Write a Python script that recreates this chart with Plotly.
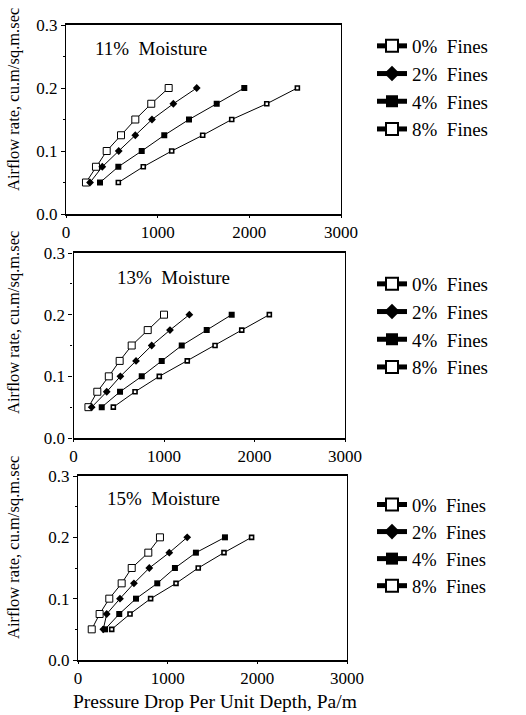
import plotly.graph_objects as go

# ---------------- data ----------------
airflow = [0.05, 0.075, 0.1, 0.125, 0.15, 0.175, 0.2]
fines_labels = ["0%\u00a0\u00a0Fines", "2%\u00a0\u00a0Fines", "4%\u00a0\u00a0Fines", "8%\u00a0\u00a0Fines"]
moisture_titles = ["11%\u00a0\u00a0Moisture", "13%\u00a0\u00a0Moisture", "15%\u00a0\u00a0Moisture"]

# pressure drop (Pa/m) for each fines level, per moisture panel
m11_f0 = [218, 327, 444, 600, 756, 930, 1120]
m11_f2 = [262, 396, 575, 756, 938, 1171, 1426]
m11_f4 = [371, 571, 826, 1072, 1342, 1644, 1945]
m11_f8 = [571, 843, 1153, 1491, 1808, 2190, 2524]

m13_f0 = [165, 263, 390, 510, 643, 820, 1000]
m13_f2 = [201, 367, 518, 691, 864, 1066, 1280]
m13_f4 = [312, 514, 754, 975, 1196, 1472, 1748]
m13_f8 = [440, 680, 948, 1257, 1564, 1859, 2164]

m15_f0 = [153, 241, 349, 487, 599, 784, 914]
m15_f2 = [282, 320, 468, 624, 795, 1018, 1218]
m15_f4 = [301, 460, 647, 884, 1081, 1315, 1639]
m15_f8 = [376, 580, 810, 1093, 1341, 1628, 1936]

x_ticks = [0, 1000, 2000, 3000]
x_ticklabels = ["0", "1000", "2000", "3000"]
y_ticks = [0.0, 0.1, 0.2, 0.3]
y_ticklabels = ["0.0", "0.1", "0.2", "0.3"]

panels = [
    [m11_f0, m11_f2, m11_f4, m11_f8],
    [m13_f0, m13_f2, m13_f4, m13_f8],
    [m15_f0, m15_f2, m15_f4, m15_f8],
]

# ---------------- style ----------------
W, H = 526, 715
SERIF = "Liberation Serif, Times New Roman, serif"

marker_styles = [
    dict(symbol="square", size=7, color="white", line=dict(color="black", width=1)),
    dict(symbol="diamond", size=6, color="black", line=dict(color="black", width=0)),
    dict(symbol="square", size=6, color="black", line=dict(color="black", width=0)),
    dict(symbol="square", size=4, color="white", line=dict(color="black", width=1.6)),
]

# pixel boxes for each panel: (left, right, top, bottom)
boxes = [(66, 341, 25, 214), (73.5, 345, 253, 438), (78, 347, 476, 660)]
legend_tops = [27, 265, 486]
legend_fonts = [19, 19, 18.5]
title_pos = [(93, 48), (115, 277), (105, 498)]
ytitle_centers = [100, 323, 548]

fig = go.Figure()
legend_names = ["legend", "legend2", "legend3"]

for p, series in enumerate(panels):
    ax = "" if p == 0 else str(p + 1)
    for s, xs in enumerate(series):
        fig.add_trace(go.Scatter(
            x=xs, y=airflow, mode="lines+markers",
            name=fines_labels[s],
            line=dict(color="black", width=1),
            marker=marker_styles[s],
            xaxis="x" + ax, yaxis="y" + ax,
            legend=legend_names[p],
            legendgroup=f"p{p}s{s}",
        ))

layout = dict(
    width=W, height=H,
    margin=dict(l=0, r=0, t=0, b=0, autoexpand=False),
    paper_bgcolor="white", plot_bgcolor="white",
    font=dict(family=SERIF, color="black", size=17),
    annotations=[],
)

for p, (l, r, t, b) in enumerate(boxes):
    ax = "" if p == 0 else str(p + 1)
    layout["xaxis" + ax] = dict(
        domain=[l / W, r / W], anchor="y" + ax, range=[0, 3000],
        tickvals=x_ticks, ticktext=x_ticklabels,
        showgrid=False, zeroline=False,
        showline=True, linecolor="black", linewidth=1.5, mirror=True,
        ticks="outside", ticklen=2, tickcolor="black",
        tickfont=dict(family=SERIF, size=17),
    )
    layout["yaxis" + ax] = dict(
        domain=[1 - b / H, 1 - t / H], anchor="x" + ax, range=[0, 0.3],
        tickvals=y_ticks, ticktext=y_ticklabels,
        showgrid=False, zeroline=False,
        showline=True, linecolor="black", linewidth=1.2, mirror=True,
        ticks="outside", ticklen=4, tickcolor="black",
        minor=dict(dtick=0.05, ticks="outside", ticklen=2, tickcolor="black"),
        tickfont=dict(family=SERIF, size=17),
    )
    lname = legend_names[p]
    layout[lname] = dict(
        x=372 / W, xanchor="left", y=1 - legend_tops[p] / H, yanchor="top",
        bgcolor="rgba(0,0,0,0)", borderwidth=0,
        font=dict(family=SERIF, size=legend_fonts[p], color="black"),
        itemsizing="constant", traceorder="grouped", tracegroupgap=0,
    )
    tx, ty = title_pos[p]
    layout["annotations"].append(dict(
        text=moisture_titles[p], x=tx / W, y=1 - ty / H, xref="paper", yref="paper",
        xanchor="left", yanchor="middle", showarrow=False,
        font=dict(family=SERIF, size=19, color="black"),
    ))
    layout["annotations"].append(dict(
        text="Airflow rate, cu.m/sq.m.sec", x=13 / W, y=1 - ytitle_centers[p] / H,
        xref="paper", yref="paper", xanchor="center", yanchor="middle",
        textangle=-90, showarrow=False,
        font=dict(family=SERIF, size=16.5, color="black"),
    ))

layout["annotations"].append(dict(
    text="Pressure Drop Per Unit Depth, Pa/m", x=215 / W, y=1 - 701 / H,
    xref="paper", yref="paper", xanchor="center", yanchor="middle",
    showarrow=False, font=dict(family=SERIF, size=19.5, color="black"),
))

fig.update_layout(**layout)
fig.write_html(
    "out.html",
    config={"displayModeBar": False},
    post_script="document.body.style.margin='0px';document.body.style.overflow='hidden';",
)
